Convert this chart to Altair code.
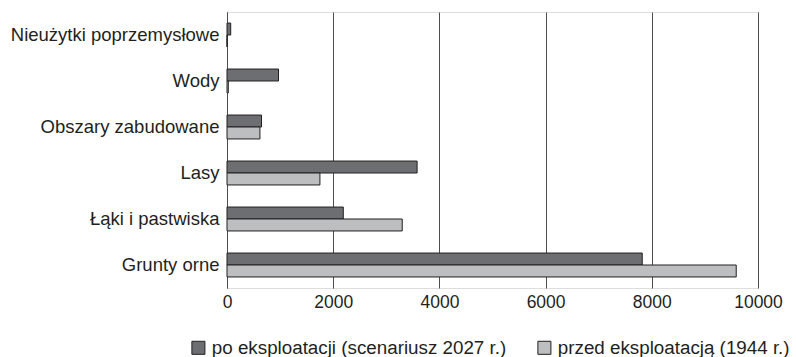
import altair as alt
import pandas as pd

categories = ["Nieużytki poprzemysłowe", "Wody", "Obszary zabudowane", "Lasy",
              "Łąki i pastwiska", "Grunty orne"]
series = ["po eksploatacji (scenariusz 2027 r.)", "przed eksploatacją (1944 r.)"]
po_values = [70, 970, 650, 3580, 2190, 7820]
przed_values = [0, 25, 620, 1750, 3300, 9590]
x_ticks = [0, 2000, 4000, 6000, 8000, 10000]

rows = []
for c, a, b in zip(categories, po_values, przed_values):
    rows.append({"kat": c, "seria": series[0], "wartosc": a})
    rows.append({"kat": c, "seria": series[1], "wartosc": b})
df = pd.DataFrame(rows)

FONT = "Liberation Sans"
TXT = "#231f20"

chart = alt.Chart(df).mark_bar(stroke=TXT, strokeWidth=1).encode(
    x=alt.X("wartosc:Q", scale=alt.Scale(domain=[0, 10000], nice=False),
            axis=alt.Axis(values=x_ticks, title=None, domain=False, ticks=False,
                          grid=True, gridColor="#4d4d4f", gridWidth=1,
                          labelFont=FONT, labelFontSize=17.5, labelColor=TXT,
                          labelPadding=5, labelFlush=False, labelOverlap=False,
                          format="d")),
    y=alt.Y("kat:N", sort=categories,
            scale=alt.Scale(paddingInner=0.48, paddingOuter=0.24),
            axis=alt.Axis(title=None, ticks=False, domain=True, domainColor="#4d4d4f",
                          labelFont=FONT, labelFontSize=18.5, labelColor=TXT,
                          labelPadding=8, labelLimit=400)),
    yOffset=alt.YOffset("seria:N", sort=series),
    color=alt.Color("seria:N", sort=series,
                    scale=alt.Scale(domain=series, range=["#6d6e71", "#bcbec0"]),
                    legend=alt.Legend(title=None, orient="none", legendX=-38, legendY=326,
                                      direction="horizontal", columns=2, columnPadding=28,
                                      symbolType="square", symbolSize=170,
                                      symbolStrokeColor=TXT, symbolStrokeWidth=1,
                                      labelFont=FONT, labelFontSize=18.8, labelColor=TXT,
                                      labelOffset=4, labelLimit=400)),
).properties(
    width=531, height=276,
    padding={"left": 227, "top": 12, "right": 38, "bottom": 69},
    autosize=alt.AutoSizeParams(type="none"),
).configure_view(stroke=None).configure(background="white")

chart.save("out.html", embed_options={"renderer": "svg", "actions": False})
